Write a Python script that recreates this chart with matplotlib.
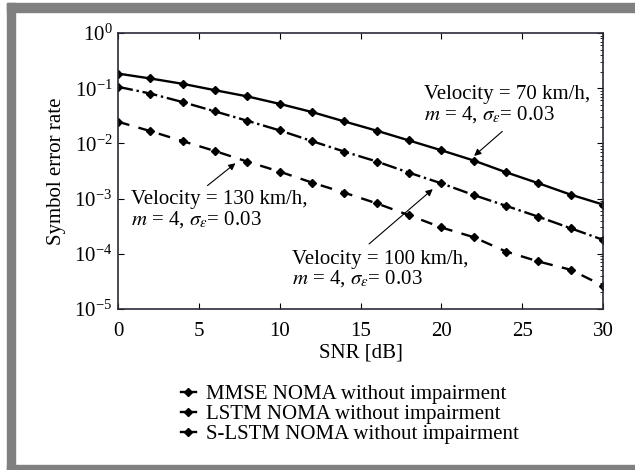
import matplotlib
matplotlib.use("Agg")
import matplotlib.pyplot as plt
from matplotlib.patches import Rectangle
from matplotlib.ticker import LogLocator, NullFormatter

plt.rcParams["font.family"] = ["Liberation Serif", "DejaVu Serif"]
plt.rcParams["mathtext.fontset"] = "stix"

# SNR grid and symbol error rates
snr = [0, 2, 4, 6, 8, 10, 12, 14, 16, 18, 20, 22, 24, 26, 28, 30]
ser_mmse = [0.184, 0.150, 0.120, 0.092, 0.071, 0.052, 0.037, 0.025,
            0.017, 0.0113, 0.0075, 0.0049, 0.0030, 0.0019, 0.00118, 0.00078]
ser_lstm = [0.106, 0.080, 0.056, 0.038, 0.0257, 0.0172, 0.011, 0.0071,
            0.0047, 0.00295, 0.00189, 0.00116, 0.00074, 0.00047, 0.00029, 0.000179]
ser_slstm = [0.0247, 0.0167, 0.011, 0.00727, 0.00467, 0.00308, 0.00195, 0.00128,
             0.00082, 0.0005, 0.0003, 0.0002, 0.00011, 0.0000726, 0.0000514, 0.0000264]

labels = ["MMSE NOMA without impairment",
          "LSTM NOMA without impairment",
          "S-LSTM NOMA without impairment"]

W, H = 635.0, 470.0
fig = plt.figure(figsize=(W / 100, H / 100), dpi=100)
ax = fig.add_axes([118 / W, 1 - 309 / H, 485 / W, 276 / H])

# grey frame (cropped on right/bottom)
grey = "#808080"
for x0, y0, w, h in [(7, 3, 628, 9), (7, 3, 8, 467), (7, 465, 628, 5)]:
    fig.patches.append(Rectangle((x0 / W, 1 - (y0 + h) / H), w / W, h / H,
                                 transform=fig.transFigure, color=grey, zorder=-1))

mk = dict(marker="D", markersize=4.5, color="black")
ax.semilogy(snr, ser_mmse, "-", lw=1.7, label=labels[0], **mk)
ax.semilogy(snr, ser_lstm, "-.", lw=1.7, label=labels[1], **mk)
ax.semilogy(snr, ser_slstm, "--", lw=1.7, dashes=(5, 4), label=labels[2], **mk)

ax.set_xlim(0, 30)
ax.set_ylim(1e-5, 1)
ax.set_xticks([0, 5, 10, 15, 20, 25, 30])
ax.yaxis.set_major_locator(LogLocator(base=10, numticks=10))
ax.yaxis.set_minor_locator(LogLocator(base=10, subs=range(2, 10), numticks=20))
ax.yaxis.set_minor_formatter(NullFormatter())
ax.tick_params(which="major", direction="in", top=True, right=True, labelsize=15,
               length=4)
ax.tick_params(axis="x", pad=9)
ax.tick_params(axis="y", pad=4)
ax.tick_params(which="minor", direction="in", left=False, right=True, length=2)
for s in ax.spines.values():
    s.set_color("#2b2b3a")
    s.set_linewidth(1.2)

ax.set_xlabel("SNR [dB]", fontsize=15, labelpad=2)
ax.set_ylabel("Symbol error rate", fontsize=15, labelpad=6)

fs = 15
ax.text(18.9, 0.049, "Velocity = 70 km/h,\n$m$ = 4, $\\sigma_\\varepsilon$= 0.03",
        fontsize=fs, ha="left", va="center", linespacing=1.0)
ax.annotate("", xy=(21.9, 0.0055), xytext=(23.9, 0.0178),
            arrowprops=dict(arrowstyle="-|>", color="black", lw=0.8, mutation_scale=10))

ax.text(0.8, 0.00062, "Velocity = 130 km/h,\n$m$ = 4, $\\sigma_\\varepsilon$= 0.03",
        fontsize=fs, ha="left", va="center", linespacing=1.0)
ax.annotate("", xy=(7.4, 0.0047), xytext=(5.4, 0.0016),
            arrowprops=dict(arrowstyle="-|>", color="black", lw=0.8, mutation_scale=10))

ax.text(10.75, 0.000052, "Velocity = 100 km/h,\n$m$ = 4, $\\sigma_\\varepsilon$= 0.03",
        fontsize=fs, ha="left", va="center", linespacing=1.0)
ax.annotate("", xy=(19.6, 0.0016), xytext=(15.4, 0.00014),
            arrowprops=dict(arrowstyle="-|>", color="black", lw=0.8, mutation_scale=10))

leg = fig.legend(loc="upper center", bbox_to_anchor=(0.551, 1 - 374 / H), frameon=False,
                 fontsize=15, numpoints=1, handlelength=0.7, handletextpad=0.5,
                 labelspacing=0.02, borderpad=0)
for h in leg.legend_handles:
    h.set_linestyle("-")

fig.savefig("out.png", dpi=100)
